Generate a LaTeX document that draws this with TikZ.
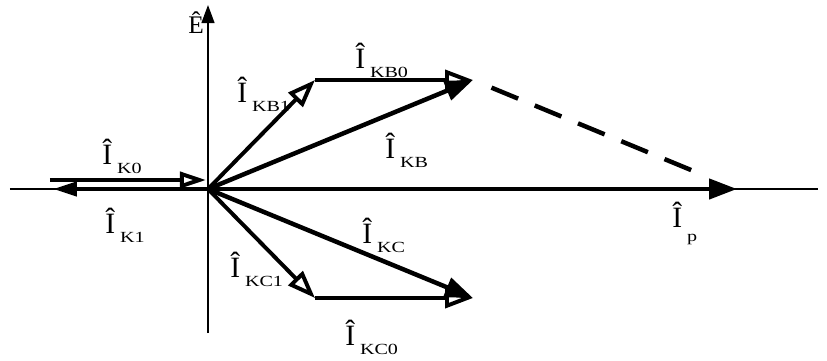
\documentclass[tikz,border=0pt]{standalone}
\usepackage{fontspec}
\setmainfont{Liberation Serif}
\usetikzlibrary{arrows.meta}

% phasor label: hatted I with a lowered index
\newcommand{\phasor}[2][-6.6pt]{Î\kern3.5pt\raisebox{#1}{\fontsize{11}{12}\selectfont\scalebox{1.3}[1]{#2}}}

\begin{document}
\begin{tikzpicture}[
    axis/.style={line width=1.4pt},
    vec/.style={line width=3.2pt, -{Triangle[length=0.7cm, width=0.5cm]}},
    vecopen/.style={line width=2.8pt, -{Triangle[open, length=0.7cm, width=0.5cm]}},
    small/.style={line width=3.2pt, -{Triangle[length=0.6cm, width=0.35cm]}},
    smallopen/.style={line width=2.8pt, -{Triangle[open, length=0.65cm, width=0.4cm]}},
    lbl/.style={anchor=base west, inner sep=0pt, font=\fontsize{21}{23}\selectfont}
]
    \useasboundingbox (-5.2,-4.275) rectangle (15.475,4.725);

    % POINTS
    \coordinate (o) at (0,0);
    \coordinate (xl) at (-4.95,0);
    \coordinate (xr) at (15.25,0);
    \coordinate (yb) at (0,-3.6);
    \coordinate (yt) at (0,4.6);
    \coordinate (p) at (13.225,0);
    \coordinate (k1) at (-3.875,0);
    \coordinate (k0s) at (-3.95,0.225);
    \coordinate (k0e) at (-0.05,0.225);
    \coordinate (b1) at (2.675,2.725);
    \coordinate (b) at (6.625,2.725);
    \coordinate (c1) at (2.675,-2.725);
    \coordinate (c) at (6.625,-2.725);

    % AXES
    \draw [axis] (xl) -- (xr);
    \draw [axis, -{Triangle[length=0.45cm, width=0.32cm]}] (yb) -- (yt);

    % CURRENT VECTORS
    \draw [vec] (o) -- (p);
    \draw [small] (o) -- (k1);
    \draw [smallopen] (k0s) -- (k0e);
    \draw [vecopen] (o) -- (b1);
    \draw [vecopen] (b1) -- (b);
    \draw [vec] (o) -- (b);
    \draw [vecopen] (o) -- (c1);
    \draw [vecopen] (c1) -- (c);
    \draw [vec] (o) -- (c);
    \draw [line width=3.2pt, dash pattern=on 0.72cm off 0.45cm, shorten <=0.5cm, shorten >=1.15cm] (b) -- (p);

    % LABELS
    \node (le) [lbl, font=\fontsize{18}{20}\selectfont] at (-0.5,3.9) {Ê};
    \node (lk0) [lbl] at (-2.65,0.625) {\phasor{K0}};
    \node (lk1) [lbl] at (-2.575,-1.1) {\phasor{K1}};
    \node (lkb1) [lbl] at (0.725,2.175) {\phasor{KB1}};
    \node (lkb0) [lbl] at (3.675,3.025) {\phasor{KB0}};
    \node (lkb) [lbl] at (4.425,0.775) {\phasor{KB}};
    \node (lkc) [lbl] at (3.85,-1.35) {\phasor{KC}};
    \node (lkc1) [lbl] at (0.55,-2.2) {\phasor{KC1}};
    \node (lkc0) [lbl] at (3.425,-3.9) {\phasor{KC0}};
    \node (lp) [lbl] at (11.6,-0.95) {\phasor[-10pt]{p}};

\end{tikzpicture}
\end{document}
